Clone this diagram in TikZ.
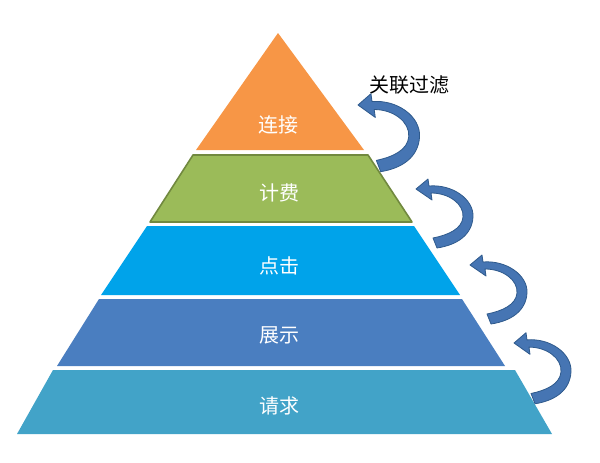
\documentclass[tikz,border=0pt]{standalone}
\usepackage{fontspec}
\newfontfamily\cjk{Noto Sans CJK SC}
\definecolor{cOrange}{HTML}{F79646}
\definecolor{cGreen}{HTML}{9BBB59}
\definecolor{cGreenB}{HTML}{71893F}
\definecolor{cCyan}{HTML}{00A3EA}
\definecolor{cBlue}{HTML}{4A7EC0}
\definecolor{cTeal}{HTML}{42A3C8}
\definecolor{cArrow}{HTML}{4675B3}
\definecolor{cArrowB}{HTML}{2F5A8C}
\tikzset{
  lbl/.style={text=white,font=\cjk\fontsize{20}{20}\selectfont,inner sep=0pt},
  curvarrow/.style={fill=cArrow,draw=cArrowB,line width=0.8pt,line join=round},
}
\newcommand{\myarrowshape}{%
  (0,0) -- (12,-10) -- (13,-3) .. controls (36,-5) and (58,10) .. (57,28)
  .. controls (56,46) and (41,56) .. (21,59) -- (17,49)
  .. controls (32,46) and (46,40) .. (47,28)
  .. controls (48,15) and (33,4) .. (15,4) -- (16,11) -- cycle}
\begin{document}
\begin{tikzpicture}[x=1pt,y=-1pt]
\useasboundingbox (0,0) rectangle (600,463);
% layers
\fill[cOrange] (278,33) -- (364,150) -- (196,150) -- cycle;
\draw[fill=cGreen,draw=cGreenB,line width=1.6pt,line join=round] (193,155) -- (368,155) -- (412,222) -- (150,222) -- cycle;
\fill[cCyan] (147,226) -- (414,226) -- (460,295) -- (101,295) -- cycle;
\fill[cBlue] (99,299) -- (462,299) -- (505,366) -- (57,366) -- cycle;
\fill[cTeal] (53,370) -- (515,370) -- (552,434) -- (17,434) -- cycle;
% labels
\node[lbl] (l1) at (278,125) {连接};
\node[lbl] (l2) at (279,193) {计费};
\node[lbl] (l3) at (279,266) {点击};
\node[lbl] (l4) at (279,335) {展示};
\node[lbl] (l5) at (279,406) {请求};
\node[font=\cjk\fontsize{20}{20}\selectfont,inner sep=0pt] (title) at (409,85) {关联过滤};
% curved arrows
\begin{scope}[shift={(358,105)},xscale=1.08,yscale=1.13]
  \path[curvarrow] \myarrowshape;
\end{scope}
\begin{scope}[shift={(416,189)}]
  \path[curvarrow] \myarrowshape;
\end{scope}
\begin{scope}[shift={(470,265)}]
  \path[curvarrow] \myarrowshape;
\end{scope}
\begin{scope}[shift={(514,343)},yscale=1.03]
  \path[curvarrow] \myarrowshape;
\end{scope}
\end{tikzpicture}
\end{document}
